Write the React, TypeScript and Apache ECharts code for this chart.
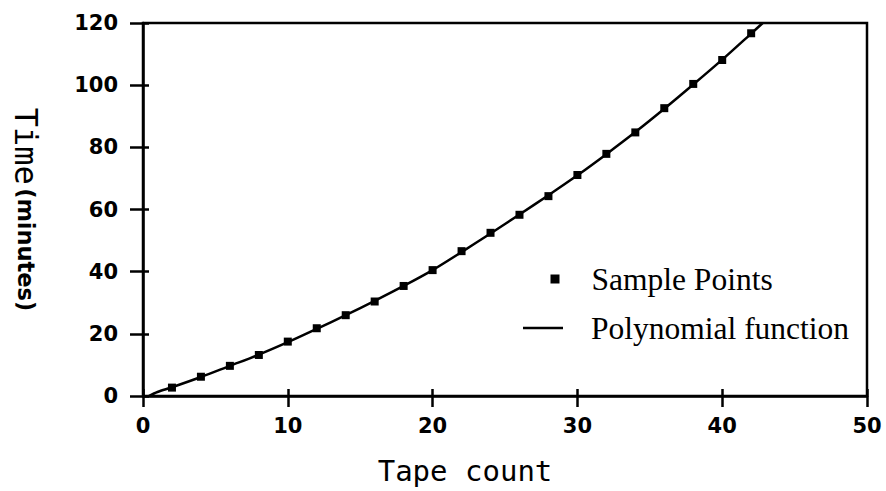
import React, { useEffect, useRef } from "react";
import * as echarts from "echarts";

const sampleX = [2, 4, 6, 8, 10, 12, 14, 16, 18, 20, 22, 24, 26, 28, 30, 32, 34, 36, 38, 40, 42];
const sampleY = [2.7, 6.2, 9.7, 13.2, 17.5, 21.8, 26.0, 30.4, 35.4, 40.5, 46.6, 52.5, 58.3, 64.3, 71.1, 77.9, 84.8, 92.6, 100.4, 108.1, 116.7];

const curveX = [0.4, 1, 2, 4, 6, 8, 10, 12, 14, 16, 18, 20, 22, 24, 26, 28, 30, 32, 34, 36, 38, 40, 42, 42.8];
const curveY = [0, 1.3, 2.8, 6.1, 9.7, 13.3, 17.3, 21.6, 26.0, 30.6, 35.4, 40.5, 46.3, 52.3, 58.4, 64.6, 71.0, 77.8, 84.9, 92.4, 100.2, 108.2, 116.6, 120];

const xTicks = { min: 0, max: 50, interval: 10 };
const yTicks = { min: 0, max: 120, interval: 20 };

const seriesNames = ["Sample Points", "Polynomial function"];
const xTitle = "Tape count";
const yTitleMain = "Time";
const yTitleSub = "(minutes)";

export default function App() {
  const ref = useRef<HTMLDivElement>(null);
  useEffect(() => {
    if (!ref.current) return;
    const chart = echarts.init(ref.current, null, { renderer: "svg" });
    const black = "#000";
    const labelFont = { fontFamily: "DejaVu Sans", fontWeight: "bold" as const, fontSize: 21, color: black };
    chart.setOption({
      animation: false,
      backgroundColor: "#fff",
      grid: { left: 143, right: 19, top: 23, bottom: 95, show: true, borderColor: black, borderWidth: 2.5 },
      xAxis: [
        {
          type: "value", ...xTicks,
          axisLine: { show: true, lineStyle: { color: black, width: 2.5 } },
          axisTick: { show: true, inside: false, length: 11, lineStyle: { color: black, width: 2.5 } },
          axisLabel: { ...labelFont, margin: 19 },
          splitLine: { show: false },
          name: xTitle,
          nameLocation: "middle",
          nameGap: 60,
          nameTextStyle: { fontFamily: "DejaVu Sans Mono", fontSize: 29, color: black, padding: [0, 80, 0, 0] },
        },
        {
          type: "value", ...xTicks, position: "bottom",
          axisLine: { show: false },
          axisTick: { show: true, inside: true, length: 7, lineStyle: { color: black, width: 2.5 } },
          axisLabel: { show: false },
          splitLine: { show: false },
        },
      ],
      yAxis: [
        {
          type: "value", ...yTicks, position: "left",
          axisLine: { show: true, lineStyle: { color: black, width: 2.5 } },
          axisTick: { show: true, inside: false, length: 13, lineStyle: { color: black, width: 2.5 } },
          axisLabel: { ...labelFont, margin: 25 },
          splitLine: { show: false },
          name: `{a|${yTitleMain}} {b|${yTitleSub}}`,
          nameLocation: "middle",
          nameRotate: -90,
          nameGap: 101,
          nameTextStyle: {
            color: black,
            rich: {
              a: { fontFamily: "DejaVu Sans Mono", fontSize: 32, color: black },
              b: { fontFamily: "DejaVu Sans", fontWeight: "bold", fontSize: 22.5, color: black },
            },
          },
        },
        {
          type: "value", ...yTicks, position: "left", offset: 0,
          axisLine: { show: false },
          axisTick: { show: true, inside: true, length: 6, lineStyle: { color: black, width: 2.5 } },
          axisLabel: { show: false },
          splitLine: { show: false },
        },
      ],
      legend: [
        {
          data: [{ name: seriesNames[0], icon: "rect" }],
          orient: "vertical",
          left: 550.5,
          top: 263,
          padding: 0,
          itemWidth: 9,
          itemHeight: 9,
          itemStyle: { color: black, opacity: 1 },
          textStyle: { fontFamily: "Liberation Serif", fontSize: 31.5, color: black, padding: [0, 0, 4, 27] },
        },
        {
          data: [{ name: seriesNames[1], icon: "path://M0 0 L40 0 L40 2.5 L0 2.5 Z" }],
          orient: "vertical",
          left: 523,
          top: 312,
          padding: 0,
          itemWidth: 40,
          itemHeight: 14,
          itemStyle: { color: black },
          textStyle: { fontFamily: "Liberation Serif", fontSize: 31.5, color: black, padding: [0, 0, 10, 23] },
        },
      ],
      series: [
        {
          name: seriesNames[1],
          type: "line",
          data: curveX.map((x, i) => [x, curveY[i]]),
          smooth: 0.3,
          symbol: "none",
          clip: true,
          lineStyle: { color: black, width: 2.5 },
          itemStyle: { color: black },
        },
        {
          name: seriesNames[0],
          type: "scatter",
          data: sampleX.map((x, i) => [x, sampleY[i]]),
          symbol: "rect",
          symbolSize: 8,
          itemStyle: { color: black, opacity: 1 },
        },
      ],
    });
    return () => chart.dispose();
  }, []);
  return <div ref={ref} style={{ width: 886, height: 491, position: "absolute", left: 0, top: 0 }} />;
}
